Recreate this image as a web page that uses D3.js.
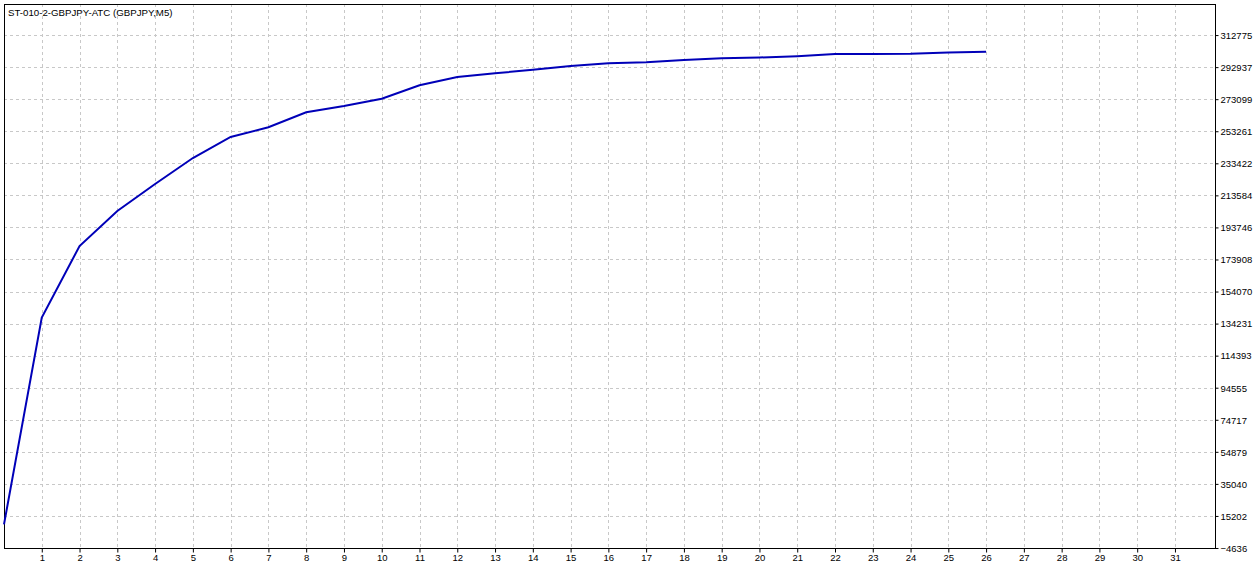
<!DOCTYPE html>
<html><head><meta charset="utf-8">
<script src="https://cdn.jsdelivr.net/npm/d3@7"></script>
<style>
html,body{margin:0;padding:0;background:#fff;}
svg{display:block;}
text{font-family:"Liberation Sans",Arial,sans-serif;font-size:9.7px;fill:#000;}
</style></head>
<body>
<script>
const title = "ST-010-2-GBPJPY-ATC (GBPJPY,M5)";
const passes = d3.range(0, 27);
const balance = [10000, 138000, 182200, 203900, 220600, 236700, 249700, 255700, 265000, 268900,
  273400, 281700, 286800, 289100, 291300, 293600, 295400, 296000, 297300, 298500,
  298900, 299700, 301000, 301000, 301200, 302000, 302400];
const yTickLabels = [-4636, 15202, 35040, 54879, 74717, 94555, 114393, 134231, 154070, 173908,
  193746, 213584, 233422, 253261, 273099, 292937, 312775];
const xTickLabels = d3.range(1, 32);

const W = 1260, H = 566;
const L = 4, R = 1215, T = 4, B = 548;
const FONT = '"Liberation Sans",Arial,sans-serif';
const svg = d3.select("body").append("svg").attr("width", W).attr("height", H);

const x = d3.scaleLinear().domain([0, 32.06]).range([L, R]);
const y = d3.scaleLinear().domain([-4636, 332000]).range([B, T]);

// grid
const g = svg.append("g").attr("shape-rendering", "crispEdges");
g.selectAll(".vg").data(xTickLabels).join("line")
  .attr("x1", d => Math.round(x(d)) + 0.5).attr("x2", d => Math.round(x(d)) + 0.5)
  .attr("y1", T).attr("y2", B)
  .attr("stroke", "#c8c8c8").attr("stroke-dasharray", "3,3");
g.selectAll(".hg").data(yTickLabels.slice(1)).join("line")
  .attr("x1", L).attr("x2", R)
  .attr("y1", d => Math.round(y(d)) + 0.5).attr("y2", d => Math.round(y(d)) + 0.5)
  .attr("stroke", "#c8c8c8").attr("stroke-dasharray", "3,3");

// axes
const yAxis = d3.axisRight(y).tickValues(yTickLabels).tickSize(3).tickPadding(2).tickFormat(d3.format("d"));
const ya = svg.append("g").attr("transform", `translate(${R + 0.5},0)`).call(yAxis);
ya.select(".domain").remove();
ya.selectAll("text").style("font-family", FONT).style("font-size", "9.5px").attr("dy", "0.35em");

const xAxis = d3.axisBottom(x).tickValues(xTickLabels).tickSize(4).tickPadding(2);
const xa = svg.append("g").attr("transform", `translate(0,${B + 0.5})`).call(xAxis);
xa.select(".domain").remove();
xa.selectAll("text").style("font-family", FONT).style("font-size", "9.5px");

// frame
svg.append("rect").attr("x", L + 0.5).attr("y", T + 0.5).attr("width", R - L).attr("height", B - T)
  .attr("fill", "none").attr("stroke", "#000").attr("stroke-width", 1).attr("shape-rendering", "crispEdges");

// line
const line = d3.line().x((d, i) => x(passes[i])).y(d => y(d));
svg.append("path").datum(balance).attr("d", line)
  .attr("fill", "none").attr("stroke", "#0000b8").attr("stroke-width", 2);

svg.append("text").attr("x", 8).attr("y", 16).style("font-size", "9.7px").text(title);
</script>
</body></html>
